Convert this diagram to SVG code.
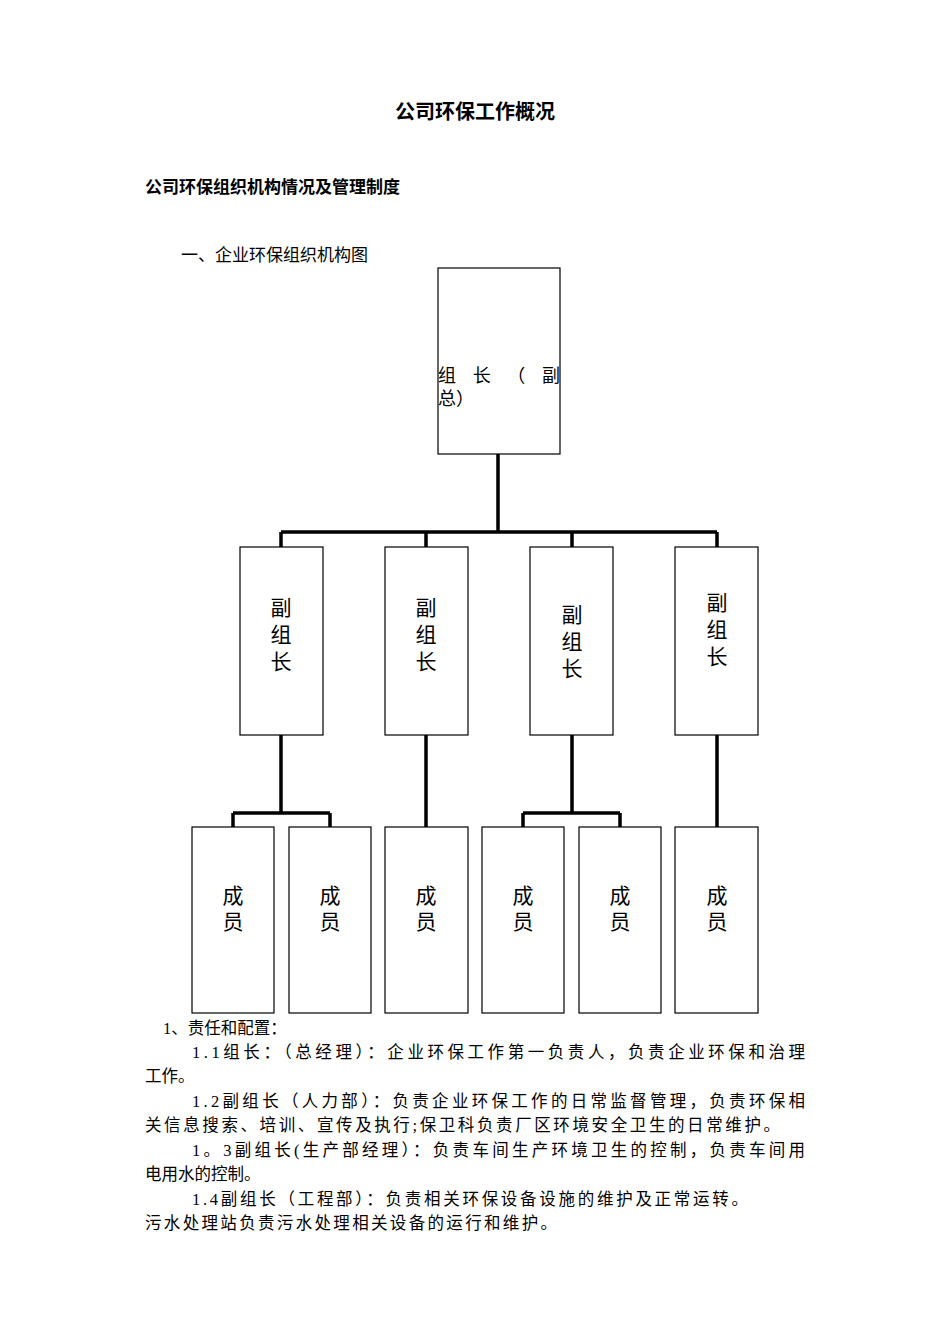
<svg xmlns="http://www.w3.org/2000/svg" width="950" height="1344" viewBox="0 0 950 1344">
<style>
text{font-family:"Liberation Serif","Noto Sans CJK SC",serif;fill:#000}
.b{fill:#fff;stroke:#000;stroke-width:1.2}
.n{font-size:21px;text-anchor:middle}
.p{font-size:16.5px}
.c{fill:none;stroke:#000;stroke-width:3.5}
</style>
<rect width="950" height="1344" fill="#fff"/>
<text x="475" y="119" text-anchor="middle" font-size="20" font-weight="bold">公司环保工作概况</text>
<text x="145" y="193" font-size="17" font-weight="bold">公司环保组织机构情况及管理制度</text>
<text x="181" y="261" font-size="17">一、企业环保组织机构图</text>
<g id="connectors">
<path class="c" d="M498 454V532M281 532H717M281 532V547M426 532V547M572 532V547M717 532V547"/>
<path class="c" d="M281 735V813M233 813H330M233 813V827M330 813V827"/>
<path class="c" d="M426 735V827"/>
<path class="c" d="M572 735V813M523 813H620M523 813V827M620 813V827"/>
<path class="c" d="M717 735V827"/>
</g>
<g id="leader"><rect class="b" x="438" y="268" width="122" height="186"/>
<text x="438" y="382" font-size="18" textLength="122" lengthAdjust="spacing">组 长 （ 副</text>
<text x="438" y="405" font-size="18">总）</text></g>
<g id="d1"><rect class="b" x="240" y="547" width="83" height="188"/><text class="n" x="281" y="615">副</text><text class="n" x="281" y="642">组</text><text class="n" x="281" y="669">长</text></g>
<g id="d2"><rect class="b" x="385" y="547" width="83" height="188"/><text class="n" x="426" y="615">副</text><text class="n" x="426" y="642">组</text><text class="n" x="426" y="669">长</text></g>
<g id="d3"><rect class="b" x="530" y="547" width="83" height="188"/><text class="n" x="572" y="622">副</text><text class="n" x="572" y="649">组</text><text class="n" x="572" y="676">长</text></g>
<g id="d4"><rect class="b" x="675" y="547" width="83" height="188"/><text class="n" x="717" y="610">副</text><text class="n" x="717" y="637">组</text><text class="n" x="717" y="664">长</text></g>
<g id="m1"><rect class="b" x="192" y="827" width="82" height="186"/><text class="n" x="233" y="903">成</text><text class="n" x="233" y="929">员</text></g>
<g id="m2"><rect class="b" x="289" y="827" width="82" height="186"/><text class="n" x="330" y="903">成</text><text class="n" x="330" y="929">员</text></g>
<g id="m3"><rect class="b" x="385" y="827" width="83" height="186"/><text class="n" x="426" y="903">成</text><text class="n" x="426" y="929">员</text></g>
<g id="m4"><rect class="b" x="482" y="827" width="82" height="186"/><text class="n" x="523" y="903">成</text><text class="n" x="523" y="929">员</text></g>
<g id="m5"><rect class="b" x="579" y="827" width="82" height="186"/><text class="n" x="620" y="903">成</text><text class="n" x="620" y="929">员</text></g>
<g id="m6"><rect class="b" x="675" y="827" width="83" height="186"/><text class="n" x="717" y="903">成</text><text class="n" x="717" y="929">员</text></g>
<text class="p" x="163" y="1034">1、责任和配置：</text>
<text class="p" x="192" y="1058" textLength="613" lengthAdjust="spacing">1.1组长：（总经理）：企业环保工作第一负责人，负责企业环保和治理</text>
<text class="p" x="145" y="1082">工作。</text>
<text class="p" x="192" y="1107" textLength="613" lengthAdjust="spacing">1.2副组长（人力部）：负责企业环保工作的日常监督管理，负责环保相</text>
<text class="p" x="145" y="1131" textLength="635" lengthAdjust="spacing">关信息搜索、培训、宣传及执行;保卫科负责厂区环境安全卫生的日常维护。</text>
<text class="p" x="192" y="1156" textLength="613" lengthAdjust="spacing">1。3副组长(生产部经理）：负责车间生产环境卫生的控制，负责车间用</text>
<text class="p" x="145" y="1180">电用水的控制。</text>
<text class="p" x="192" y="1205" textLength="556" lengthAdjust="spacing">1.4副组长（工程部）：负责相关环保设备设施的维护及正常运转。</text>
<text class="p" x="145" y="1229" textLength="412" lengthAdjust="spacing">污水处理站负责污水处理相关设备的运行和维护。</text>
</svg>
